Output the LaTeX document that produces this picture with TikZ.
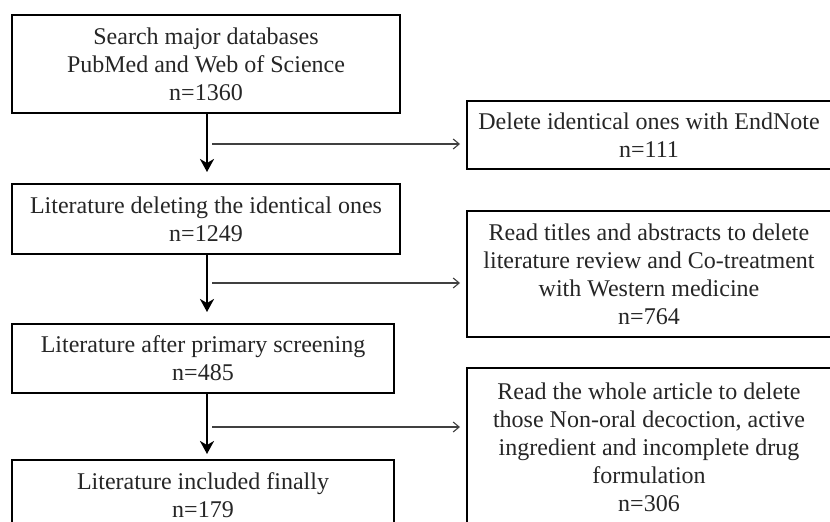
\documentclass[tikz,border=0pt]{standalone}
\usepackage{fontspec}
\setmainfont{Liberation Serif}
\usetikzlibrary{arrows.meta,calc}
\begin{document}
\begin{tikzpicture}[x=1pt,y=-1pt,
  box/.style={draw=black, line width=2pt, align=center, inner sep=0pt,
    font=\fontsize{24}{28}\selectfont, text=black!85},
  varrow/.style={draw=black, line width=2.8pt, -{Stealth[length=13pt,width=14pt,inset=4pt]}},
  harrow/.style={draw=black!75, line width=1.1pt, -{Straight Barb[length=6pt,width=10pt]}}
]
\useasboundingbox (0,0) rectangle (830,522);
\clip (0,0) rectangle (830,522);
\fill[white] (0,0) rectangle (830,522);

\node[box, minimum width=388pt, minimum height=98pt] (b1) at (206,64)
  {Search major databases\\PubMed and Web of Science\\n=1360};
\node[box, minimum width=388pt, minimum height=70pt] (b2) at (206,219)
  {Literature deleting the identical ones\\n=1249};
\node[box, minimum width=382pt, minimum height=69pt] (b3) at (203,358.5)
  {Literature after primary screening\\n=485};
\node[box, minimum width=382pt, minimum height=70pt] (b4) at (203,495)
  {Literature included finally\\n=179};

\node[box, minimum width=364pt, minimum height=68pt] (r1) at (649,135)
  {Delete identical ones with EndNote\\n=111};
\node[box, minimum width=364pt, minimum height=126pt] (r2) at (649,274)
  {Read titles and abstracts to delete\\literature review and Co-treatment\\with Western medicine\\n=764};
\node[box, minimum width=364pt, minimum height=158pt] (r3) at (649,447)
  {Read the whole article to delete\\those Non-oral decoction, active\\ingredient and incomplete drug\\formulation\\n=306};

\coordinate (v1) at (207,0);
\draw[varrow] (b1.south -| v1) -- ($(b2.north -| v1)+(0,-11)$);
\draw[varrow] (b2.south -| v1) -- ($(b3.north -| v1)+(0,-11)$);
\draw[varrow] (b3.south -| v1) -- ($(b4.north -| v1)+(0,-5)$);

\coordinate (s1) at (212,144);
\coordinate (s2) at (212,283);
\coordinate (s3) at (212,427);
\draw[harrow] (s1) -- ($(s1 -| r1.west)+(-6,0)$);
\draw[harrow] (s2) -- ($(s2 -| r2.west)+(-6,0)$);
\draw[harrow] (s3) -- ($(s3 -| r3.west)+(-6,0)$);
\end{tikzpicture}
\end{document}
